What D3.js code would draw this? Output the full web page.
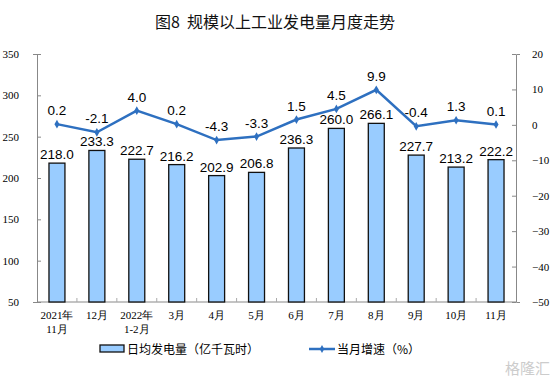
<!DOCTYPE html>
<html>
<head>
<meta charset="utf-8">
<script src="https://cdn.jsdelivr.net/npm/d3@7"></script>
<style>
  body { margin: 0; background: #fff; }
</style>
</head>
<body>
<div id="chart"></div>
<script>
// 数据
const months = [["2021年", "11月"], ["12月"], ["2022年", "1-2月"], ["3月"], ["4月"], ["5月"], ["6月"], ["7月"], ["8月"], ["9月"], ["10月"], ["11月"]];
const dailyOutput = [218.0, 233.3, 222.7, 216.2, 202.9, 206.8, 236.3, 260.0, 266.1, 227.7, 213.2, 222.2];
const growthRate = [0.2, -2.1, 4.0, 0.2, -4.3, -3.3, 1.5, 4.5, 9.9, -0.4, 1.3, 0.1];
const leftTicks = [50, 100, 150, 200, 250, 300, 350];
const rightTicks = [-50, -40, -30, -20, -10, 0, 10, 20];

const width = 554, height = 381;
const margin = { top: 54, left: 37, right: 38, bottom: 79 };
const plotW = width - margin.left - margin.right;
const plotH = height - margin.top - margin.bottom;

const svg = d3.select('#chart').append('svg')
    .attr('width', width)
    .attr('height', height);

const serif = '"Liberation Serif", "Times New Roman", serif';
const sans = '"Liberation Sans", Arial, sans-serif';
const cjk = '"Noto Sans CJK SC", sans-serif';

// 标题
svg.append('text')
    .attr('x', width / 2 - 2)
    .attr('y', 28)
    .attr('text-anchor', 'middle')
    .attr('font-family', cjk)
    .attr('font-size', '16px')
    .attr('fill', '#111')
    .attr('xml:space', 'preserve')
    .text('图8  规模以上工业发电量月度走势');

const g = svg.append('g').attr('transform', `translate(${margin.left},${margin.top})`);

const x = d3.scaleBand()
    .domain(d3.range(months.length))
    .range([0, plotW])
    .paddingInner(0.6)
    .paddingOuter(0.3);

const yL = d3.scaleLinear().domain([50, 350]).range([plotH, 0]);
const yR = d3.scaleLinear().domain([-50, 20]).range([plotH, 0]);

// 左轴
const axisL = g.append('g')
    .call(d3.axisLeft(yL).tickValues(leftTicks).tickSize(4).tickPadding(14));
axisL.select('.domain').attr('stroke', '#888');
axisL.selectAll('.tick line').attr('stroke', '#888').attr('transform', 'translate(4,0)').attr('x2', -4);
axisL.selectAll('text').attr('font-family', serif).attr('font-size', '11px').attr('fill', '#000');

// 右轴
const axisR = g.append('g')
    .attr('transform', `translate(${plotW},0)`)
    .call(d3.axisRight(yR).tickValues(rightTicks).tickSize(4).tickPadding(12));
axisR.select('.domain').attr('stroke', '#888');
axisR.selectAll('.tick line').attr('stroke', '#888').attr('x2', -4);
axisR.selectAll('text').attr('font-family', serif).attr('font-size', '11px').attr('fill', '#000')
    .attr('text-anchor', 'start');

// 底轴
g.append('line')
    .attr('x1', 0).attr('x2', plotW)
    .attr('y1', plotH).attr('y2', plotH)
    .attr('stroke', '#888');
g.selectAll('.xtick')
    .data(d3.range(1, months.length))
    .enter().append('line')
    .attr('x1', d => d * plotW / months.length)
    .attr('x2', d => d * plotW / months.length)
    .attr('y1', plotH).attr('y2', plotH - 4)
    .attr('stroke', '#aaa');

const xl = g.selectAll('.xlabel')
    .data(months)
    .enter().append('text')
    .attr('x', (d, i) => x(i) + x.bandwidth() / 2)
    .attr('y', plotH + 17)
    .attr('text-anchor', 'middle')
    .attr('font-family', serif)
    .attr('font-size', '11px')
    .attr('fill', '#000');
xl.each(function (d) {
    const t = d3.select(this);
    d.forEach((s, k) => {
        t.append('tspan')
            .attr('x', t.attr('x'))
            .attr('dy', k === 0 ? 0 : 14)
            .text(s);
    });
});

// 柱
g.selectAll('.bar')
    .data(dailyOutput)
    .enter().append('rect')
    .attr('x', (d, i) => x(i))
    .attr('y', d => yL(d))
    .attr('width', x.bandwidth())
    .attr('height', d => yL(50) - yL(d))
    .attr('fill', '#99CCFF')
    .attr('stroke', '#111')
    .attr('stroke-width', 1.3);

g.selectAll('.barlabel')
    .data(dailyOutput)
    .enter().append('text')
    .attr('x', (d, i) => x(i) + x.bandwidth() / 2)
    .attr('y', d => yL(d) - 4)
    .attr('text-anchor', 'middle')
    .attr('font-family', sans)
    .attr('font-size', '13.5px')
    .attr('fill', '#000')
    .text(d => d.toFixed(1));

// 折线
const line = d3.line()
    .x((d, i) => x(i) + x.bandwidth() / 2)
    .y(d => yR(d));

g.append('path')
    .datum(growthRate)
    .attr('d', line)
    .attr('fill', 'none')
    .attr('stroke', '#2E70C0')
    .attr('stroke-width', 2.5);

g.selectAll('.pt')
    .data(growthRate)
    .enter().append('path')
    .attr('d', d3.symbol().type(d3.symbolDiamond).size(22))
    .attr('transform', (d, i) => `translate(${x(i) + x.bandwidth() / 2},${yR(d)})`)
    .attr('fill', '#2E70C0');

g.selectAll('.ptlabel')
    .data(growthRate)
    .enter().append('text')
    .attr('x', (d, i) => x(i) + x.bandwidth() / 2)
    .attr('y', d => yR(d) - 9)
    .attr('text-anchor', 'middle')
    .attr('font-family', sans)
    .attr('font-size', '13.5px')
    .attr('fill', '#000')
    .text(d => d.toFixed(1));

// 图例
const leg = svg.append('g').attr('transform', 'translate(0,349)');
leg.append('rect')
    .attr('x', 100).attr('y', -4)
    .attr('width', 24).attr('height', 7)
    .attr('fill', '#99CCFF')
    .attr('stroke', '#111')
    .attr('stroke-width', 1.3);
leg.append('text')
    .attr('x', 127).attr('y', 4.5)
    .attr('font-family', cjk)
    .attr('font-size', '12px')
    .attr('fill', '#000')
    .text('日均发电量（亿千瓦时）');
leg.append('line')
    .attr('x1', 309).attr('x2', 335)
    .attr('y1', 0).attr('y2', 0)
    .attr('stroke', '#2E70C0')
    .attr('stroke-width', 2.5);
leg.append('path')
    .attr('d', d3.symbol().type(d3.symbolDiamond).size(18))
    .attr('transform', 'translate(322,0)')
    .attr('fill', '#2E70C0');
leg.append('text')
    .attr('x', 337).attr('y', 4.5)
    .attr('font-family', cjk)
    .attr('font-size', '12px')
    .attr('fill', '#000')
    .text('当月增速（%）');

// 水印
svg.append('text')
    .attr('x', 550).attr('y', 374)
    .attr('text-anchor', 'end')
    .attr('font-family', cjk)
    .attr('font-size', '15px')
    .attr('fill', '#ccc')
    .text('格隆汇');
</script>
</body>
</html>
